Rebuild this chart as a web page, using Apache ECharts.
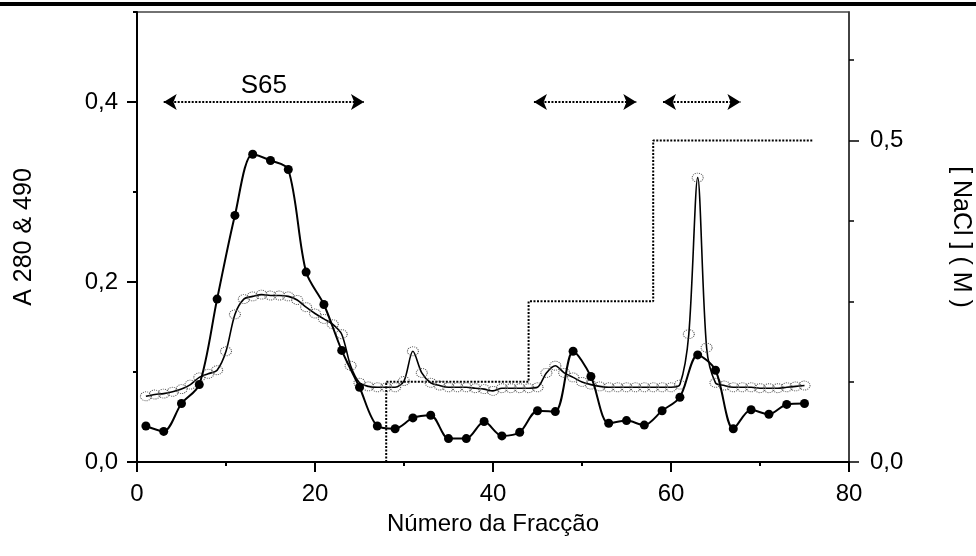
<!DOCTYPE html>
<html><head><meta charset="utf-8">
<script src="https://cdn.jsdelivr.net/npm/echarts@6/dist/echarts.min.js"></script>
<style>html,body{margin:0;padding:0;background:#fff}#c{width:976px;height:556px}</style>
</head><body><div id="c"></div>
<script>
// ---- data ----
const fractionsOdd = [1,3,5,7,9,11,13,15,17,19,21,23,25,27,29,31,33,35,37,39,41,43,45,47,49,51,53,55,57,59,61,63,65,67,69,71,73,75];
const absMarked = [0.040,0.034,0.065,0.086,0.181,0.274,0.342,0.335,0.325,0.211,0.175,0.124,0.083,0.040,0.037,0.049,0.052,0.026,0.026,0.045,0.029,0.033,0.057,0.056,0.123,0.095,0.043,0.046,0.041,0.057,0.072,0.119,0.102,0.037,0.058,0.053,0.064,0.065];
const fractionsAll = [1,2,3,4,5,6,7,8,9,10,11,12,13,14,15,16,17,18,19,20,21,22,23,24,25,26,27,28,29,30,31,32,33,34,35,36,37,38,39,40,41,42,43,44,45,46,47,48,49,50,51,52,53,54,55,56,57,58,59,60,61,62,63,64,65,66,67,68,69,70,71,72,73,74,75];
const absSmooth = [0.073,0.075,0.076,0.078,0.081,0.086,0.094,0.098,0.102,0.123,0.164,0.181,0.184,0.186,0.185,0.185,0.184,0.180,0.172,0.165,0.159,0.153,0.142,0.107,0.088,0.084,0.083,0.083,0.083,0.090,0.123,0.099,0.088,0.085,0.083,0.083,0.083,0.082,0.081,0.079,0.082,0.082,0.082,0.082,0.083,0.099,0.107,0.099,0.094,0.089,0.086,0.084,0.083,0.083,0.083,0.083,0.083,0.083,0.083,0.083,0.086,0.142,0.316,0.127,0.088,0.085,0.083,0.083,0.083,0.082,0.082,0.082,0.083,0.084,0.085];
const naclFractions = [28,28,44,44,58,58,76];
const naclValues = [0,0.125,0.125,0.25,0.25,0.5,0.5];
const arrowRanges = [[3.0,25.5],[44.6,56.1],[59.1,67.8]];
const arrowLabels = ['S65','',''];
const arrowLevel = 0.4;
const leftMajor = [0,0.2,0.4];
const leftMinor = [0.1,0.3,0.5];
const rightMajor = [0,0.5];
const rightMinor = [0.125,0.25,0.375,0.625];
const xTitle = 'Número da Fracção';
const leftTitle = 'A 280 & 490';
const rightTitle = '[ NaCl ] ( M )';

const FONT = '"Liberation Sans", Arial, sans-serif';
const fmt = v => v.toFixed(1).replace('.', ',');
const chart = echarts.init(document.getElementById('c'), null, {renderer: 'canvas'});

const markedData = fractionsOdd.map((f, i) => [f, absMarked[i]]);
const smoothData = fractionsAll.map((f, i) => [f, absSmooth[i]]);
const naclData = naclFractions.map((f, i) => [f, naclValues[i]]);
const arrowData = arrowRanges.map((r, i) => [
  {coord: [r[0], arrowLevel], label: {show: !!arrowLabels[i], formatter: arrowLabels[i]}},
  {coord: [r[1], arrowLevel]}
]);

chart.setOption({
  animation: false,
  backgroundColor: '#fff',
  textStyle: {fontFamily: FONT},
  grid: {left: 137, right: 127, top: 12, bottom: 94, show: true, borderColor: '#444', borderWidth: 1.5, containLabel: false, outerBoundsMode: 'none'},
  xAxis: [{
    type: 'value', min: 0, max: 80, interval: 20, position: 'bottom',
    axisLine: {lineStyle: {color: '#000', width: 2}},
    axisTick: {length: 10, lineStyle: {color: '#000', width: 2}},
    minorTick: {show: true, splitNumber: 2, length: 4, lineStyle: {color: '#000', width: 2}},
    axisLabel: {fontSize: 24, color: '#000', margin: 20, fontFamily: FONT},
    splitLine: {show: false}, minorSplitLine: {show: false},
    name: xTitle, nameLocation: 'middle', nameGap: 50,
    nameTextStyle: {fontSize: 24, color: '#000', fontFamily: FONT}
  }],
  yAxis: [{
    type: 'value', min: 0, max: 0.5, position: 'left',
    axisLine: {show: true, lineStyle: {color: '#000', width: 2}},
    axisTick: {show: true, customValues: leftMajor, length: 10, lineStyle: {color: '#000', width: 2}},
    axisLabel: {customValues: leftMajor, formatter: fmt, fontSize: 24, color: '#000', margin: 19, fontFamily: FONT},
    splitLine: {show: false}
  }, {
    type: 'value', min: 0, max: 0.7, position: 'right',
    axisLine: {show: true, lineStyle: {color: '#333', width: 1.5}},
    axisTick: {show: true, customValues: rightMajor, length: 10, lineStyle: {color: '#000', width: 1.5}},
    axisLabel: {customValues: rightMajor, formatter: fmt, fontSize: 24, color: '#000', margin: 21, fontFamily: FONT},
    splitLine: {show: false}
  }, {
    type: 'value', min: 0, max: 0.5, position: 'left',
    axisLine: {show: false},
    axisTick: {show: true, customValues: leftMinor, length: 4, lineStyle: {color: '#000', width: 2}},
    axisLabel: {show: false}, splitLine: {show: false}
  }, {
    type: 'value', min: 0, max: 0.7, position: 'right',
    axisLine: {show: false},
    axisTick: {show: true, customValues: rightMinor, length: 5, lineStyle: {color: '#000', width: 1.5}},
    axisLabel: {show: false}, splitLine: {show: false}
  }],
  graphic: [
    {type: 'rect', shape: {x: 0, y: 2, width: 976, height: 4}, style: {fill: '#000'}},
    {type: 'text', x: 24, y: 237, rotation: Math.PI / 2,
     style: {text: leftTitle, fontSize: 25, fontFamily: FONT, fill: '#000', align: 'center', verticalAlign: 'middle'}},
    {type: 'text', x: 961, y: 237, rotation: -Math.PI / 2,
     style: {text: rightTitle, fontSize: 25, fontFamily: FONT, fill: '#000', align: 'center', verticalAlign: 'middle'}}
  ],
  series: [{
    type: 'line', name: 'NaCl', yAxisIndex: 1, data: naclData, showSymbol: false, symbol: 'none',
    lineStyle: {color: '#000', width: 2, type: [2, 1.5]}, silent: true, z: 1
  }, {
    type: 'line', name: 'A490', data: smoothData, smooth: 0.3, showAllSymbol: true,
    symbol: 'circle', symbolSize: [11, 9],
    itemStyle: {color: 'transparent', borderColor: '#555', borderWidth: 1, borderType: 'dotted'},
    lineStyle: {color: '#000', width: 1.6}, z: 2
  }, {
    type: 'line', name: 'A280', data: markedData, smooth: 0.3, showAllSymbol: true,
    symbol: 'circle', symbolSize: 9,
    itemStyle: {color: '#000'},
    lineStyle: {color: '#000', width: 2}, z: 3,
    markLine: {
      silent: true, symbol: ['arrow', 'arrow'], symbolSize: [12, 13], precision: 3,
      lineStyle: {color: '#000', width: 2, type: [2, 1.5]},
      label: {show: false, position: 'middle', fontSize: 26, color: '#000', fontFamily: FONT, distance: 3},
      emphasis: {disabled: true},
      data: arrowData
    }
  }]
});
</script>
</body></html>
